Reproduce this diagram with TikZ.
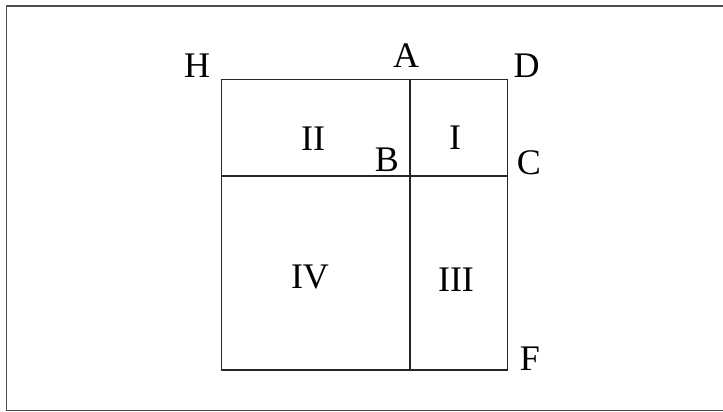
\documentclass[tikz,border=0pt]{standalone}
\usepackage{fontspec}
\setmainfont{Liberation Serif}
\begin{document}
\begin{tikzpicture}[x=1pt,y=-1pt,
  lbl/.style={inner sep=0pt,anchor=center,font=\fontsize{36}{40}\selectfont},
  gridline/.style={line width=1.3pt,draw=black!85},
  framel/.style={line width=1.6pt,draw=black!70}]
\useasboundingbox (0,0) rectangle (723,412);
% outer frame
\coordinate (f1) at (723,6);
\coordinate (f2) at (6.5,6);
\coordinate (f3) at (6.5,410.5);
\coordinate (f4) at (723,410.5);
\draw[framel] (f1) -- (f2) -- (f3) -- (f4);
% square corners
\coordinate (h) at (221.5,79.5);
\coordinate (d) at (507.5,79.5);
\coordinate (f) at (507.5,370);
\coordinate (g) at (221.5,370);
\coordinate (a) at (410,79.5);
\coordinate (e) at (410,370);
\coordinate (l) at (221.5,176);
\coordinate (c) at (507.5,176);
\draw[gridline] (h) -- (d) -- (f) -- (g) -- cycle;
\draw[gridline] (a) -- (e);
\draw[gridline] (l) -- (c);
% labels
\node[lbl] (H) at (197,66) {H};
\node[lbl] (A) at (406,56) {A};
\node[lbl] (D) at (526.5,66) {D};
\node[lbl] (II) at (313,138.5) {II};
\node[lbl] (I) at (455,137.5) {I};
\node[lbl] (B) at (387,160) {B};
\node[lbl] (C) at (529,163) {C};
\node[lbl] (IV) at (310,277) {IV};
\node[lbl] (III) at (456,279.5) {III};
\node[lbl] (F) at (530,359) {F};
\end{tikzpicture}
\end{document}
